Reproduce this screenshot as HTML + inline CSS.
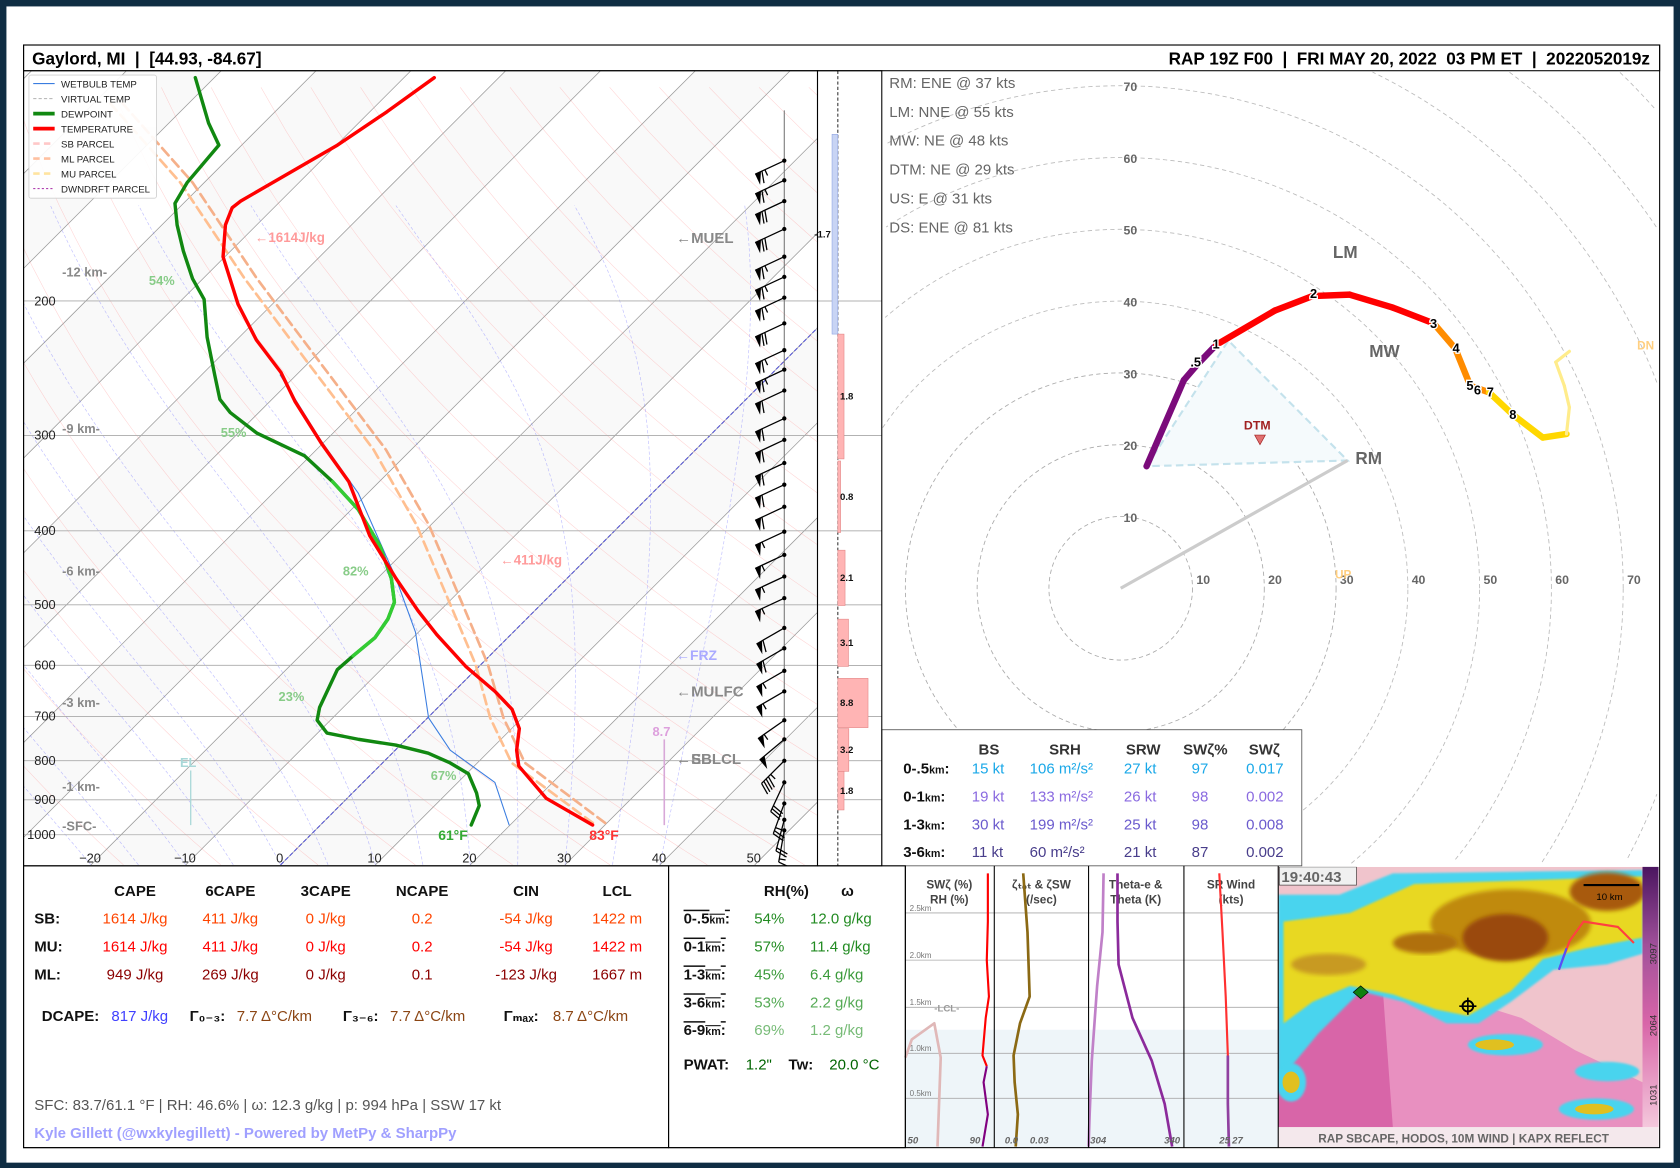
<!DOCTYPE html>
<html><head><meta charset="utf-8">
<style>
html,body{margin:0;padding:0;background:#0f2d43;width:1680px;height:1168px;overflow:hidden;}
svg{display:block;position:absolute;left:0;top:0;font-family:"Liberation Sans","DejaVu Sans",sans-serif;}
</style></head>
<body>
<svg id="root" width="1680" height="1168" viewBox="0 0 1568 1090" preserveAspectRatio="none" xmlns="http://www.w3.org/2000/svg">
<defs>
<clipPath id="skewClip"><rect x="22" y="66" width="741" height="742"/></clipPath>
<clipPath id="hodoClip"><rect x="823" y="66" width="726" height="742"/></clipPath>
<clipPath id="radarClip"><rect x="1193" y="809" width="340" height="243"/></clipPath>
<linearGradient id="cbar" x1="0" y1="0" x2="0" y2="1">
<stop offset="0" stop-color="#4b1560"/><stop offset="0.3" stop-color="#a0509a"/><stop offset="0.6" stop-color="#d865a8"/><stop offset="1" stop-color="#f4c8dc"/></linearGradient>
<filter id="blur2"><feGaussianBlur stdDeviation="2"/></filter>
<filter id="blur1"><feGaussianBlur stdDeviation="1"/></filter>
</defs>
<rect x="6" y="6" width="1556" height="1079" fill="#ffffff"/>
<g id="skew" clip-path="url(#skewClip)"></g>
<g id="skewAxes"></g>
<g id="barcol"></g>
<g id="hodo" clip-path="url(#hodoClip)"></g>
<g id="hodoText"></g>
<g id="bottom"></g>
<g id="frames"></g>
</svg>
<script>
// ===== DATA =====
const tempP   = [971,896,813,775,726,685,649,602,547,509,462,406,345,308,271,248,225,202,175,159,151,148,125,113,102];
const tempC   = [28.7,21.0,14.7,12.8,10.8,8.0,4.3,-1.4,-7.8,-12.3,-18.0,-25.3,-33.2,-40.0,-47.3,-51.9,-57.9,-63.6,-70.2,-73.3,-74.4,-74.2,-69.9,-68.2,-66.8];
const dewP    = [971,916,882,832,805,782,763,750,736,708,681,608,583,552,522,496,462,419,375,345,319,298,280,269,250,223,199,187,172,159,149,140,125,117,102];
const dewC    = [15.9,14.7,13.1,10.2,7.1,3.8,-0.5,-5.0,-9.0,-11.4,-12.5,-14.6,-14.4,-14.0,-14.6,-15.7,-18.5,-23.1,-29.3,-34.9,-40.6,-48.0,-53.0,-55.5,-58.6,-63.4,-67.7,-71.1,-75.0,-78.4,-80.9,-81.8,-82.4,-85.8,-92.0];
const wbP     = [971,854,775,703,638,543,462,357,304,250];
const wbC     = [19.9,13.9,5.8,0.1,-3.8,-10.3,-18.0,-31.0,-40.6,-51.7];
const parcelP = [965,805,703,598,493,393,313,242,187,140,110];
const sbParcel= [29.8,15.0,8.0,0.7,-8.9,-20.2,-32.7,-48.5,-64.3,-81.2,-97.1];
const mlParcel= [28.5,13.6,6.6,-0.6,-10.2,-21.5,-34.0,-49.8,-65.6,-82.5,-98.4];
const hodoU   = [3.6,8.8,10.7,13.3,21.5,26.7,31.9,37.9,43.6,46.6,48.7,51.3,54.6,58.8,62.1,62.5,61.8,60.6,62.5];
const hodoV   = [17.0,29.0,31.2,33.9,38.7,40.7,40.9,39.1,36.9,33.4,28.2,27.3,24.2,21.0,21.5,25.2,28.2,31.5,33.0];
const hodoSeg = ['#7b0b7b','#7b0b7b','#7b0b7b','#ff0000','#ff0000','#ff0000','#ff0000','#ff0000','#ff8c00','#ff8c00','#ff8c00','#ffd700','#ffd700','#ffd700','#ffec8b','#ffec8b','#ffec8b','#ffec8b'];
const barbP   = [131,139,148,161,175,186,198,214,232,246,262,285,304,326,348,372,401,430,459,490,536,570,610,649,708,750,800,854,910,956,987];
const barbDir = [245,245,245,245,245,245,245,245,245,245,245,245,245,245,245,245,245,245,245,245,240,240,240,240,235,230,225,205,200,195,190];
const barbSpd = [65,65,70,70,65,65,65,70,65,65,60,60,60,60,60,60,55,55,55,55,60,60,55,55,55,50,45,30,25,20,15];
const barTop  = [121,221,324,424,522,624,726,826];
const barBot  = [221,322,402,501,602,724,826,928];
const barVal  = [-1.7,1.8,0.8,2.1,3.1,8.8,3.2,1.8];
const pLevels = [200,300,400,500,600,700,800,900,1000];
const tTicks  = [-20,-10,0,10,20,30,40,50];
const hodoRings = [10,20,30,40,50,60,70,80,90,100];

// ===== HELPERS =====
const NS='http://www.w3.org/2000/svg';
function mk(tag,attrs,parent,txt){const e=document.createElementNS(NS,tag);for(const k in attrs)e.setAttribute(k,attrs[k]);if(txt!==undefined)e.textContent=txt;if(parent)parent.appendChild(e);return e;}
function yP(p){return 779+309.5*Math.log(p/1000);}
function xT(t,p){return 261+8.85*t+(808-yP(p));}
function hx(u){return 1046+6.7*u;}
function hy(v){return 549-6.7*v;}
function ptsTP(P,T){return P.map((p,i)=>xT(T[i],p).toFixed(1)+','+yP(p).toFixed(1)).join(' ');}

const skew=document.getElementById('skew');
const skewAxes=document.getElementById('skewAxes');

for(let t=-160;t<60;t+=20){
  const pg=mk('polygon',{points:[[xT(t,1095),yP(1095)],[xT(t+10,1095),yP(1095)],[xT(t+10,95),yP(95)],[xT(t,95),yP(95)]].map(a=>a.join(',')).join(' '),fill:'#f9f9f9'},skew);
  
  
}
for(let t=-160;t<=60;t+=10){
  const l=mk('line',{x1:xT(t,1095),y1:yP(1095),x2:xT(t,95),y2:yP(95),stroke:'#9a9a9a','stroke-width':0.7},skew);
  
  
}
{const l=mk('line',{x1:xT(0,1095),y1:yP(1095),x2:xT(0,95),y2:yP(95),stroke:'#5050d0','stroke-width':1,'stroke-dasharray':'4,2'},skew);

}
for(let th=250;th<=470;th+=10){
  let pts=[];for(let p=1095;p>=95;p-=15){const T=th*Math.pow(p/1000,0.2857)-273.15;pts.push(xT(T,p).toFixed(1)+','+yP(p).toFixed(1));}
  const pl=mk('polyline',{points:pts.join(' '),fill:'none',stroke:'#ff8080','stroke-width':0.5,opacity:0.35},skew);
  
  
}
function es(T){return 6.112*Math.exp(17.67*T/(T+243.5));}
for(let t0=-20;t0<=40;t0+=5){
  let T=t0,pts=[];
  for(let p=1095;p>=150;p-=5){
    pts.push(xT(T,p).toFixed(1)+','+yP(p).toFixed(1));
    const Tk=T+273.15,rs=0.622*es(T)/(p-es(T));
    const dTdp=(287*Tk+2.5e6*rs)/(p*(1004+2.5e6*2.5e6*rs*0.622/(287*Tk*Tk)));
    T-=dTdp*5;
  }
  const pl=mk('polyline',{points:pts.join(' '),fill:'none',stroke:'#7070ff','stroke-width':0.6,'stroke-dasharray':'3,2',opacity:0.45},skew);
  
  
}
pLevels.forEach(p=>{
  const l=mk('line',{x1:22,x2:763,y1:yP(p),y2:yP(p),stroke:'#aaaaaa','stroke-width':0.8},skew);
  
  
});
function prof(P,T,attrs,name){const pl=mk('polyline',Object.assign({points:ptsTP(P,T),fill:'none','stroke-linejoin':'round','stroke-linecap':'round'},attrs),skew);return pl;}
prof(parcelP,mlParcel,{stroke:'#ffbf90','stroke-width':2.5,'stroke-dasharray':'9,5'},'ml-parcel-trace');
prof(parcelP,sbParcel,{stroke:'#f5b08a','stroke-width':2.5,'stroke-dasharray':'9,5'},'sb-parcel-trace');
prof(wbP,wbC,{stroke:'#3a7de0','stroke-width':1},'wetbulb-trace');
prof(dewP,dewC,{stroke:'#118811','stroke-width':3.2},'dewpoint-trace');
prof(dewP.slice(12,20),dewC.slice(12,20),{stroke:'#33cc33','stroke-width':3.2},'dewpoint-highlight');
prof(tempP,tempC,{stroke:'#ff0000','stroke-width':3.2},'temperature-trace');

function st(x,y,s,o,parent,name){const t=mk('text',Object.assign({x:x,y:y},o),parent||skew,s);return t;}
const km=[['-12 km-',254],['-9 km-',400],['-6 km-',533],['-3 km-',656],['-1 km-',734],['-SFC-',771]];
km.forEach(k=>st(58,k[1]+4,k[0],{'font-size':12,'font-weight':'bold',fill:'#888'},skew,'height-label'));
const rh=[['54%',139,262],['55%',206,404],['82%',320,533],['23%',260,650],['67%',402,724]];
rh.forEach(r=>st(r[1],r[2]+4,r[0],{'font-size':12,'font-weight':'bold',fill:'#88cc88'},skew,'rh-label'));
st(238,226,'←1614J/kg',{'font-size':12.5,'font-weight':'bold',fill:'#ff9a9a'},skew,'sbcape-label');
st(467,527,'←411J/kg',{'font-size':12.5,'font-weight':'bold',fill:'#ff9a9a'},skew,'6cape-label');
st(631,227,'←MUEL',{'font-size':14,'font-weight':'bold',fill:'#888'},skew,'muel-label');
st(631,616,'←FRZ',{'font-size':13,'font-weight':'bold',fill:'#aaaaff'},skew,'frz-label');
st(631,650,'←MULFC',{'font-size':14,'font-weight':'bold',fill:'#888'},skew,'mulfc-label');
st(631,713,'←EL',{'font-size':14,'font-weight':'bold',fill:'#999'},skew,'el-arrow-label');
st(631,713,'←SBLCL',{'font-size':14,'font-weight':'bold',fill:'#888'},skew,'sblcl-label');
st(609,687,'8.7',{'font-size':12,'font-weight':'bold',fill:'#dda0dd'},skew,'lapse-rate-label');
mk('line',{x1:620,x2:620,y1:690,y2:770,stroke:'#d8a8d8','stroke-width':1.5},skew);
st(168,716,'EL',{'font-size':12,'font-weight':'bold',fill:'#a8d8d8'},skew,'el-label');
mk('line',{x1:178,x2:178,y1:719,y2:770,stroke:'#a8d8d8','stroke-width':1.2},skew);
st(409,784,'61°F',{'font-size':13,'font-weight':'bold',fill:'#33aa33'},skew,'surface-dewpoint-label');
st(550,784,'83°F',{'font-size':13,'font-weight':'bold',fill:'#ff3333'},skew,'surface-temp-label');

mk('line',{x1:732,x2:732,y1:103,y2:800,stroke:'#777','stroke-width':1},skew);
barbP.forEach((p,i)=>{
  const g=mk('g',{},skew);
  
  
  const x0=732,y0=yP(p),d=barbDir[i]*Math.PI/180,L=30;
  const sx=Math.sin(d),sy=-Math.cos(d);
  const px=sy*1,py=-sx;
  const ex=x0+sx*L,ey=y0+sy*L;
  mk('line',{x1:x0,y1:y0,x2:ex,y2:ey,stroke:'#000','stroke-width':1.2},g);
  mk('circle',{cx:x0,cy:y0,r:2,fill:'#000'},g);
  let s=barbSpd[i],pos=0;
  while(s>=50){const ax=ex-sx*pos,ay=ey-sy*pos;const bx=ex-sx*(pos+6),by=ey-sy*(pos+6);
    mk('polygon',{points:`${ax},${ay} ${bx},${by} ${ax+px*11},${ay+py*11}`,fill:'#000'},g);pos+=7;s-=50;}
  while(s>=10){const ax=ex-sx*pos,ay=ey-sy*pos;mk('line',{x1:ax,y1:ay,x2:ax+px*11+sx*3,y2:ay+py*11+sy*3,stroke:'#000','stroke-width':1.2},g);pos+=3;s-=10;}
  if(s>=5){const ax=ex-sx*pos,ay=ey-sy*pos;mk('line',{x1:ax,y1:ay,x2:ax+px*6,y2:ay+py*6,stroke:'#000','stroke-width':1.2},g);}
});

(function(){
  const g=mk('g',{},skew);
  
  
  mk('rect',{x:27,y:70,width:119,height:115,fill:'#fff',stroke:'#ccc','stroke-width':0.8,rx:2,opacity:0.92},g);
  const items=[['WETBULB TEMP','#3a7de0',1,''],['VIRTUAL TEMP','#bbb',1,'3,2'],['DEWPOINT','#118811',3.5,''],['TEMPERATURE','#ff0000',3.5,''],['SB PARCEL','#ffc8c8',2.5,'6,4'],['ML PARCEL','#ffc0a0',2.5,'6,4'],['MU PARCEL','#ffe4a0',2.5,'6,4'],['DWNDRFT PARCEL','#b040b0',1,'2,2']];
  items.forEach((it,i)=>{const y=78+i*14;
    const e=mk('g',{},g);
    
    
    mk('line',{x1:31,x2:51,y1:y,y2:y,stroke:it[1],'stroke-width':it[2],'stroke-dasharray':it[3]},e);
    mk('text',{x:57,y:y+3.5,'font-size':9,fill:'#222'},e,it[0]);});
})();

pLevels.forEach(p=>st(52,yP(p)+4,String(p),{'font-size':12,'text-anchor':'end',fill:'#222'},skewAxes,'pressure-tick-label'));
tTicks.forEach(t=>st(xT(t,1098),805,t<0?'−'+(-t):String(t),{'font-size':12,'text-anchor':'middle',fill:'#222'},skewAxes,'temperature-tick-label'));

const bc=document.getElementById('barcol');
mk('line',{x1:782,x2:782,y1:66,y2:808,stroke:'#000','stroke-width':0.8,'stroke-dasharray':'3,2'},bc);
pLevels.forEach(p=>{mk('line',{x1:763,x2:823,y1:yP(p),y2:yP(p),stroke:'#999','stroke-width':0.7},bc);});
barVal.forEach((v,i)=>{
  const y1=yP(barTop[i]),y2=yP(barBot[i]),w=v*3.2;
  const r=mk('rect',{x:v<0?782+w:782,y:y1,width:Math.abs(w),height:y2-y1,fill:v<0?'#c8d4f4':'#ffb4b4',stroke:v<0?'#8aa0e0':'#e08080','stroke-width':0.5},bc);
  
  
  st(v<0?760:784,(y1+y2)/2+3,v.toFixed(1),{'font-size':9,'font-weight':'bold',fill:'#111'},bc,'layer-bar-value');
});

const hodo=document.getElementById('hodo');
hodoRings.forEach(r=>{
  const R=r*6.7;let c;
  if(549+R<=808){
    c=mk('circle',{cx:1046,cy:549,r:R,fill:'none',stroke:r<=70?'#aaa':'#bbb','stroke-width':0.8,'stroke-dasharray':'4,3'},hodo);
  } else {
    let d='',pen=false;
    for(let a=0;a<=360;a+=1){const x=1046+R*Math.cos(a*Math.PI/180),y=549-R*Math.sin(a*Math.PI/180);
      const ok=(y<=806&&y>=66&&x>=823&&x<=1549);
      if(ok){d+=(pen?'L':'M')+x.toFixed(1)+','+y.toFixed(1)+' ';pen=true;} else pen=false;}
    c=mk('path',{d:d,fill:'none',stroke:'#bbb','stroke-width':0.8,'stroke-dasharray':'4,3'},hodo);
  }
  
  });
mk('polygon',{points:`${hx(3.6)},${hy(17.0)} ${hx(15)},${hy(34.5)} ${hx(31.6)},${hy(17.8)}`,fill:'#f5fafc',stroke:'#c4e2ec','stroke-width':2,'stroke-dasharray':'7,4'},hodo);
mk('line',{x1:1046,y1:549,x2:hx(31.6),y2:hy(17.8),stroke:'#cccccc','stroke-width':3},hodo);
for(let i=0;i<hodoU.length-1;i++){
  const l=mk('line',{x1:hx(hodoU[i]),y1:hy(hodoV[i]),x2:hx(hodoU[i+1]),y2:hy(hodoV[i+1]),stroke:hodoSeg[i],'stroke-width':i>=14?3:6,'stroke-linecap':'round'},hodo);
  
  
}
const hl=[['.5',1116,338],['1',1135,321],['2',1226,274],['3',1338,302],['4',1359,325],['5',1372,360],['6',1379,364],['7',1391,366],['8',1412,387]];
hl.forEach(h=>{st(h[1],h[2]+4,h[0],{'font-size':12,'font-weight':'bold','text-anchor':'middle',fill:'#000',stroke:'#fff','stroke-width':2.5,'paint-order':'stroke'},hodo,'hodograph-height-marker');});
[10,20,30,40,50,60,70].forEach(k=>{
  st(hx(k)+10,545,String(k),{'font-size':11.5,'font-weight':'bold','text-anchor':'middle',fill:'#666'},hodo,'hodograph-x-tick');
  st(1055,hy(k)+5,String(k),{'font-size':11.5,'font-weight':'bold','text-anchor':'middle',fill:'#666'},hodo,'hodograph-y-tick');
});
st(1244,241,'LM',{'font-size':16,'font-weight':'bold',fill:'#666'},hodo,'lm-label');
st(1278,333,'MW',{'font-size':16,'font-weight':'bold',fill:'#666'},hodo,'mw-label');
st(1265,433,'RM',{'font-size':16,'font-weight':'bold',fill:'#666'},hodo,'rm-label');
st(1161,401,'DTM',{'font-size':11.5,'font-weight':'bold',fill:'#a02020'},hodo,'dtm-label');
mk('polygon',{points:'1171,406 1181,406 1176,415',fill:'#e07070',stroke:'#a02020','stroke-width':0.6},hodo);
st(1246,540,'UP',{'font-size':11,'font-weight':'bold',fill:'#ffcf80'},hodo,'upshear-label');
st(1528,326,'DN',{'font-size':11,'font-weight':'bold',fill:'#ffcf80'},hodo,'downshear-label');
const ht=document.getElementById('hodoText');
['RM: ENE @ 37 kts','LM: NNE @ 55 kts','MW: NE @ 48 kts','DTM: NE @ 29 kts','US: E @ 31 kts','DS: ENE @ 81 kts'].forEach((s,i)=>st(830,82+i*27,s,{'font-size':14,fill:'#666'},ht,'storm-motion-text'));
mk('rect',{x:823,y:681,width:392,height:127,fill:'#fff',stroke:'#555','stroke-width':0.8},ht);
[['BS',923],['SRH',994],['SRW',1067],['SWζ%',1125],['SWζ',1180]].forEach(h=>st(h[1],704,h[0],{'font-size':14,'font-weight':'bold','text-anchor':'middle',fill:'#333'},ht,'kinematics-header'));
const kRows=[['0-.5','15 kt','106 m²/s²','27 kt','97','0.017','#1aa8e8'],['0-1','19 kt','133 m²/s²','26 kt','98','0.002','#8a6ae0'],['1-3','30 kt','199 m²/s²','25 kt','98','0.008','#6a5acd'],['3-6','11 kt','60 m²/s²','21 kt','87','0.002','#483d8b']];
kRows.forEach((r,i)=>{const y=722+i*26;
  const t=mk('text',{x:843,y:y,'font-size':14,'font-weight':'bold',fill:'#111'},ht);
  
  
  mk('tspan',{},t,r[0]);mk('tspan',{'font-size':10},t,'km');mk('tspan',{},t,':');
  st(907,y,r[1],{'font-size':14,fill:r[6]},ht,'bulk-shear-value');
  st(961,y,r[2],{'font-size':14,fill:r[6]},ht,'srh-value');
  st(1049,y,r[3],{'font-size':14,fill:r[6]},ht,'srw-value');
  st(1120,y,r[4],{'font-size':14,'text-anchor':'middle',fill:r[6]},ht,'swz-percent-value');
  st(1163,y,r[5],{'font-size':14,fill:r[6]},ht,'swz-value');
});

const bt=document.getElementById('bottom');
[['CAPE',126],['6CAPE',215],['3CAPE',304],['NCAPE',394],['CIN',491],['LCL',576]].forEach(h=>st(h[1],836,h[0],{'font-size':14,'font-weight':'bold','text-anchor':'middle',fill:'#111'},bt,'thermo-header'));
const tRows=[['SB:',['1614 J/kg','411 J/kg','0 J/kg','0.2','-54 J/kg','1422 m'],'#ff4500'],['MU:',['1614 J/kg','411 J/kg','0 J/kg','0.2','-54 J/kg','1422 m'],'#ff0000'],['ML:',['949 J/kg','269 J/kg','0 J/kg','0.1','-123 J/kg','1667 m'],'#8b0000']];
const tcx=[126,215,304,394,491,576];
tRows.forEach((r,i)=>{const y=862+i*26;
  st(32,y,r[0],{'font-size':14,'font-weight':'bold',fill:'#111'},bt,'parcel-row-label');
  r[1].forEach((v,j)=>st(tcx[j],y,v,{'font-size':14,'text-anchor':'middle',fill:r[2]},bt,'parcel-value'));
});
(function(){const y=953;
  st(39,y,'DCAPE:',{'font-size':14,'font-weight':'bold',fill:'#111'},bt,'dcape-label');
  st(104,y,'817 J/kg',{'font-size':14,fill:'#4040ff'},bt,'dcape-value');
  st(177,y,'Γ₀₋₃:',{'font-size':14,'font-weight':'bold',fill:'#111'},bt,'lapse-0-3-label');
  st(221,y,'7.7 Δ°C/km',{'font-size':14,fill:'#8b4513'},bt,'lapse-0-3-value');
  st(320,y,'Γ₃₋₆:',{'font-size':14,'font-weight':'bold',fill:'#111'},bt,'lapse-3-6-label');
  st(364,y,'7.7 Δ°C/km',{'font-size':14,fill:'#8b4513'},bt,'lapse-3-6-value');
  st(470,y,'Γₘₐₓ:',{'font-size':14,'font-weight':'bold',fill:'#111'},bt,'lapse-max-label');
  st(516,y,'8.7 Δ°C/km',{'font-size':14,fill:'#8b4513'},bt,'lapse-max-value');
})();
st(32,1036,'SFC: 83.7/61.1 °F | RH: 46.6% | ω: 12.3 g/kg | p: 994 hPa | SSW 17 kt',{'font-size':14,fill:'#555'},bt,'surface-summary');
st(32,1062,'Kyle Gillett (@wxkylegillett) - Powered by MetPy & SharpPy',{'font-size':14,'font-weight':'bold',fill:'#a0a0ff'},bt,'credit-text');
st(734,836,'RH(%)',{'font-size':14,'font-weight':'bold','text-anchor':'middle',fill:'#111'},bt,'rh-header');
st(791,836,'ω',{'font-size':14,'font-weight':'bold','text-anchor':'middle',fill:'#111'},bt,'omega-header');
const mRows=[['0-.5','54%','12.0 g/kg','#228b22'],['0-1','57%','11.4 g/kg','#228b22'],['1-3','45%','6.4 g/kg','#3a9a3a'],['3-6','53%','2.2 g/kg','#55aa55'],['6-9','69%','1.2 g/kg','#77bb77']];
mRows.forEach((r,i)=>{const y=862+i*26;
  const t=mk('text',{x:638,y:y,'font-size':14,'font-weight':'bold',fill:'#111','text-decoration':'overline'},bt);
  
  
  mk('tspan',{},t,r[0]);mk('tspan',{'font-size':10},t,'km');mk('tspan',{},t,':');
  st(704,y,r[1],{'font-size':14,fill:r[3]},bt,'rh-value');
  st(756,y,r[2],{'font-size':14,fill:r[3]},bt,'omega-value');
});
st(638,998,'PWAT:',{'font-size':14,'font-weight':'bold',fill:'#111'},bt,'pwat-label');
st(696,998,'1.2"',{'font-size':14,fill:'#006400'},bt,'pwat-value');
st(736,998,'Tw:',{'font-size':14,'font-weight':'bold',fill:'#111'},bt,'tw-label');
st(774,998,'20.0 °C',{'font-size':14,fill:'#006400'},bt,'tw-value');

mk('rect',{x:845,y:961,width:348,height:110,fill:'#eef5f9'},bt);
[852,896,940,983,1025].forEach((y,i)=>{mk('line',{x1:845,x2:1193,y1:y,y2:y,stroke:'#aaa','stroke-width':0.8},bt);
  st(849,y-2,['2.5km','2.0km','1.5km','1.0km','0.5km'][i],{'font-size':7.5,fill:'#777'},bt,'height-grid-label');});
st(872,944,'-LCL-',{'font-size':9,'font-weight':'bold',fill:'#999'},bt,'lcl-marker');
[['SWζ (%)',886,829],['RH (%)',886,843],['ζₜₒₜ & ζSW',972,829],['(/sec)',972,843],['Theta-e &',1060,829],['Theta (K)',1060,843],['SR Wind',1149,829],['(kts)',1149,843]].forEach(h=>st(h[1],h[2],h[0],{'font-size':11,'font-weight':'bold','text-anchor':'middle',fill:'#444'},bt,'mini-panel-title'));
function pl(pts,c,w,name){const p=mk('polyline',{points:pts,fill:'none',stroke:c,'stroke-width':w,'stroke-linejoin':'round'},bt);}
pl('845,987 851,970 872,955 878,987 875,1070','#e0b8b8',2.5,'rh-profile');
pl('922,815 922,860 921,896 923,930 920,950 917,985 921,995','#ff0000',2,'swz-profile');
pl('921,995 918,1010 922,1040 917,1070','#800080',2,'swz-profile-low');
pl('955,815 959,870 960,900 961,930 952,955 946,985 947,1010 950,1040 948,1070','#8b6914',2.5,'vorticity-profile');
pl('1030,815 1029,870 1024,920 1019,990 1017,1040 1016,1070','#c080c8',2.5,'theta-e-profile');
pl('1043,815 1043,860 1044,900 1057,950 1075,990 1087,1030 1094,1070','#8b2a9b',2.5,'theta-profile');
pl('1138,815 1141,870 1144,930 1146,985','#ff3030',2,'sr-wind-profile');
pl('1146,985 1146,1030 1147,1070','#9040a0',2.5,'sr-wind-profile-low');
[['50',852],['90',910],['0.0',944],['0.03',970],['304',1025],['340',1094],['25',1143],['27',1155]].forEach(a=>st(a[1],1067,a[0],{'font-size':9,'font-weight':'bold','font-style':'italic','text-anchor':'middle',fill:'#666'},bt,'mini-axis-tick'));

(function(){
  const g=mk('g',{'clip-path':'url(#radarClip)'},bt);
  
  
  mk('rect',{x:1193,y:809,width:340,height:243,fill:'#f0c4cc'},g);
  mk('polygon',{points:'1193,940 1215,930 1250,920 1290,915 1300,940 1320,980 1300,1052 1193,1052',fill:'#d865a8'},g);
  mk('polygon',{points:'1290,915 1340,925 1420,950 1470,980 1533,1010 1533,1052 1300,1052',fill:'#e890c0'},g);
  mk('polygon',{points:'1193,835 1250,835 1300,815 1533,812 1533,890 1500,900 1450,905 1410,935 1380,955 1350,955 1310,935 1270,925 1230,965 1193,1010',fill:'#4ad4ee',filter:'url(#blur1)'},g);
  mk('polygon',{points:'1198,860 1260,852 1320,825 1533,818 1533,875 1480,885 1440,895 1410,925 1370,948 1340,942 1300,928 1260,920 1225,935 1198,955',fill:'#e8d820',filter:'url(#blur1)'},g);
  mk('ellipse',{cx:1410,cy:862,rx:75,ry:32,fill:'#c08a10',filter:'url(#blur2)'},g);
  mk('ellipse',{cx:1405,cy:875,rx:40,ry:22,fill:'#9a4a08',filter:'url(#blur2)'},g);
  mk('ellipse',{cx:1500,cy:832,rx:35,ry:18,fill:'#a85a08',filter:'url(#blur2)'},g);
  mk('ellipse',{cx:1330,cy:880,rx:30,ry:10,fill:'#b07010',filter:'url(#blur2)'},g);
  mk('ellipse',{cx:1240,cy:900,rx:35,ry:10,fill:'#c89a20',filter:'url(#blur2)'},g);
  mk('ellipse',{cx:1405,cy:975,rx:35,ry:10,fill:'#4ad4ee',filter:'url(#blur1)'},g);
  mk('ellipse',{cx:1395,cy:975,rx:18,ry:5,fill:'#e0c020'},g);
  mk('ellipse',{cx:1500,cy:1000,rx:30,ry:9,fill:'#4ad4ee',filter:'url(#blur1)'},g);
  mk('ellipse',{cx:1490,cy:1035,rx:35,ry:10,fill:'#4ad4ee',filter:'url(#blur1)'},g);
  mk('ellipse',{cx:1488,cy:1035,rx:18,ry:5,fill:'#e0c020'},g);
  mk('ellipse',{cx:1205,cy:1010,rx:14,ry:18,fill:'#4ad4ee',filter:'url(#blur1)'},g);
  mk('ellipse',{cx:1205,cy:1010,rx:8,ry:10,fill:'#e0c020'},g);
  mk('polyline',{points:'1455,905 1465,878 1478,860 1510,865 1525,880',fill:'none',stroke:'#ff4040','stroke-width':2},g);
  mk('polyline',{points:'1455,905 1462,885',fill:'none',stroke:'#5050ff','stroke-width':2},g);
  mk('polygon',{points:'1270,920 1277,926 1270,932 1263,926',fill:'#108010',stroke:'#000','stroke-width':0.6},g);
  mk('circle',{cx:1370,cy:939,r:5,fill:'none',stroke:'#000','stroke-width':1.8},g);
  mk('line',{x1:1362,x2:1378,y1:939,y2:939,stroke:'#000','stroke-width':1.5},g);
  mk('line',{x1:1370,x2:1370,y1:931,y2:947,stroke:'#000','stroke-width':1.5},g);
  mk('rect',{x:1194,y:809,width:72,height:17,fill:'#f0f0f0',stroke:'#333','stroke-width':0.6},g);
  st(1196,823,'19:40:43',{'font-size':14,'font-weight':'bold',fill:'#666'},g,'radar-timestamp');
  mk('line',{x1:1478,x2:1530,y1:826,y2:826,stroke:'#000','stroke-width':2},g);
  st(1490,840,'10 km',{'font-size':9,fill:'#000'},g,'radar-scale-label');
})();
mk('rect',{x:1533,y:809,width:15,height:243,fill:'url(#cbar)'},bt);
[['3097',890],['2064',957],['1031',1022]].forEach(a=>{st(1546,a[1],a[0],{'font-size':9,fill:'#333',transform:`rotate(-90 1546 ${a[1]})`,'text-anchor':'middle'},bt,'colorbar-label');});
mk('rect',{x:1193,y:1052,width:355,height:19,fill:'#f4e8ec'},bt);
st(1366,1066,'RAP SBCAPE, HODOS, 10M WIND | KAPX REFLECT',{'font-size':11,'font-weight':'bold','text-anchor':'middle',fill:'#666'},bt,'radar-caption');

const fr=document.getElementById('frames');
function R(x,y,w,h,name){const r=mk('rect',{x:x,y:y,width:w,height:h,fill:'none',stroke:'#000','stroke-width':1},fr);}
R(22,42,1527,1029,'figure-frame');
R(22,42,1527,24,'title-bar');
R(22,66,741,742,'skew-t-frame');
R(763,66,60,742,'bar-column-frame');
R(22,808,602,263,'thermo-table-frame');
R(624,808,221,263,'moisture-table-frame');
[845,928,1016,1105,1193].forEach(x=>{mk('line',{x1:x,x2:x,y1:808,y2:1071,stroke:'#000','stroke-width':1},fr);});
st(30,60,'Gaylord, MI\u00a0\u00a0|\u00a0\u00a0[44.93, -84.67]',{'font-size':16,'font-weight':'bold',fill:'#000'},fr,'title-location');
st(1540,60,'RAP 19Z F00\u00a0\u00a0|\u00a0\u00a0FRI MAY 20, 2022\u00a0\u00a003 PM ET\u00a0\u00a0|\u00a0\u00a02022052019z',{'font-size':16,'font-weight':'bold',fill:'#000','text-anchor':'end'},fr,'title-model-run');
</script>
</body></html>
